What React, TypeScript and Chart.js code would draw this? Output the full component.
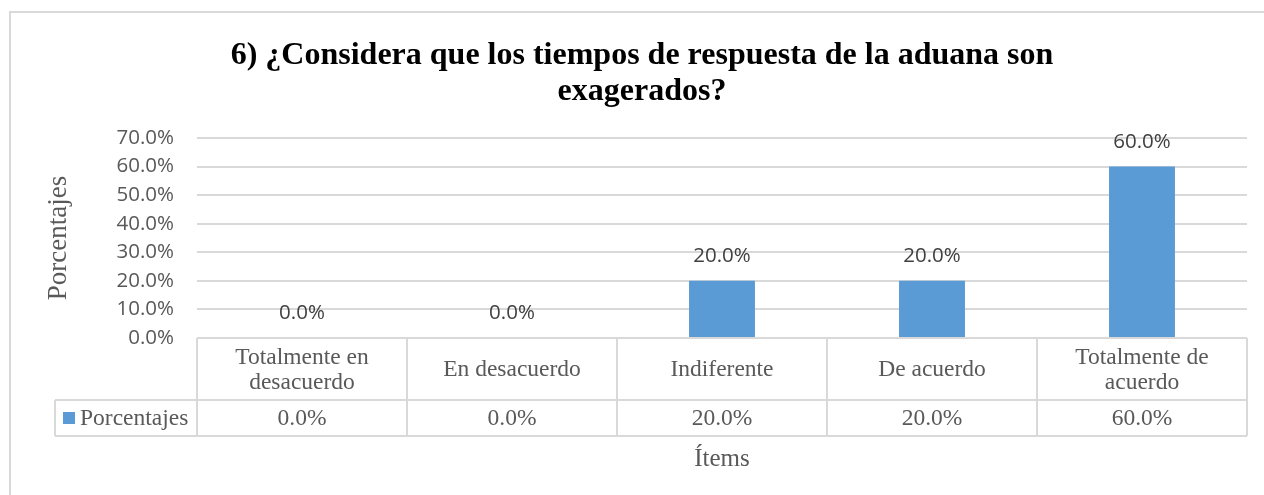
import { useEffect, useRef } from "react";
import { Chart, registerables } from "chart.js";

Chart.register(...registerables);

const titleLines = ["6) ¿Considera que los tiempos de respuesta de la aduana son", "exagerados?"];
const categories = [["Totalmente en", "desacuerdo"], ["En desacuerdo"], ["Indiferente"], ["De acuerdo"], ["Totalmente de", "acuerdo"]];
const seriesName = "Porcentajes";
const values = [0, 0, 0.2, 0.2, 0.6];
const yTitle = "Porcentajes";
const xTitle = "Ítems";
const yMin = 0;
const yMax = 0.7;
const yStep = 0.1;

const fmtPct = (v: number) => (v * 100).toFixed(1) + "%";

const SANS = "'Open Sans', 'Noto Sans', sans-serif";
const SERIF = "'Liberation Serif', 'Times New Roman', serif";
const BAR = "#5b9bd5";
const GRID = "#d9d9d9";
const TXT = "#595959";

const framePlugin = {
  id: "frame",
  beforeDraw(chart: any) {
    const { ctx, width, height } = chart;
    ctx.save();
    ctx.fillStyle = "#ffffff";
    ctx.fillRect(0, 0, width, height);
    ctx.strokeStyle = GRID;
    ctx.lineWidth = 2;
    ctx.beginPath();
    ctx.moveTo(10, height);
    ctx.lineTo(10, 12);
    ctx.lineTo(width, 12);
    ctx.stroke();
    ctx.restore();
  },
};

const labelPlugin = {
  id: "barLabels",
  afterDatasetsDraw(chart: any) {
    const { ctx } = chart;
    const meta = chart.getDatasetMeta(0);
    ctx.save();
    ctx.font = `20.5px ${SANS}`;
    ctx.fillStyle = "#404040";
    ctx.textAlign = "center";
    ctx.textBaseline = "middle";
    meta.data.forEach((bar: any, i: number) => {
      ctx.fillText(fmtPct(values[i]), bar.x, bar.y - 24.5);
    });
    ctx.restore();
  },
};

const tablePlugin = {
  id: "dataTable",
  afterDraw(chart: any) {
    const { ctx } = chart;
    const xs = chart.scales.x;
    const ys = chart.scales.y;
    const n = categories.length;
    const colW = xs.getPixelForValue(1) - xs.getPixelForValue(0);
    const top = ys.getPixelForValue(yMin);
    const rowSep = top + 62;
    const bottom = rowSep + 36;
    const legLeft = 55;
    const left = xs.getPixelForValue(0) - colW / 2;
    const right = xs.getPixelForValue(n - 1) + colW / 2;

    ctx.save();
    ctx.strokeStyle = GRID;
    ctx.lineWidth = 2;
    ctx.beginPath();
    ctx.moveTo(left, top);
    ctx.lineTo(right, top);
    ctx.moveTo(legLeft, rowSep);
    ctx.lineTo(right, rowSep);
    ctx.moveTo(legLeft, bottom);
    ctx.lineTo(right, bottom);
    ctx.moveTo(legLeft, rowSep);
    ctx.lineTo(legLeft, bottom);
    for (let i = 0; i <= n; i++) {
      const x = left + i * colW;
      ctx.moveTo(x, top);
      ctx.lineTo(x, bottom);
    }
    ctx.stroke();

    ctx.font = `23.5px ${SERIF}`;
    ctx.fillStyle = TXT;
    ctx.textAlign = "center";
    ctx.textBaseline = "middle";
    const lh = 25;
    const headMid = (top + rowSep) / 2 + 1;
    categories.forEach((lines, i) => {
      const cx = xs.getPixelForValue(i);
      const y0 = headMid - ((lines.length - 1) * lh) / 2;
      lines.forEach((line, j) => ctx.fillText(line, cx, y0 + j * lh));
      ctx.fillText(fmtPct(values[i]), cx, (rowSep + bottom) / 2 + 1);
    });

    ctx.fillStyle = BAR;
    ctx.fillRect(63, (rowSep + bottom) / 2 - 6, 12, 12);
    ctx.fillStyle = TXT;
    ctx.textAlign = "left";
    ctx.fillText(seriesName, 80, (rowSep + bottom) / 2 + 1);
    ctx.restore();
  },
};

export default function App() {
  const ref = useRef<HTMLCanvasElement | null>(null);

  useEffect(() => {
    if (!ref.current) return;
    const chart = new Chart(ref.current, {
      type: "bar",
      data: {
        labels: categories,
        datasets: [
          {
            label: seriesName,
            data: values,
            backgroundColor: BAR,
            borderWidth: 0,
            categoryPercentage: 1,
            barPercentage: 0.314,
          },
        ],
      },
      options: {
        animation: false,
        responsive: true,
        maintainAspectRatio: false,
        devicePixelRatio: 1,
        layout: { padding: { left: 20, right: 0, top: 0, bottom: 0 } },
        plugins: {
          legend: { display: false },
          tooltip: { enabled: false },
          title: {
            display: true,
            text: titleLines,
            color: "#000000",
            font: { family: SERIF, size: 32, weight: "bold", lineHeight: 1.125 },
            padding: { top: 38, bottom: 28 },
          },
        },
        scales: {
          x: {
            type: "category",
            offset: true,
            grid: { display: false },
            border: { display: false },
            ticks: { display: false },
            title: {
              display: true,
              text: xTitle,
              color: TXT,
              font: { family: SERIF, size: 25, lineHeight: 1.2 },
              padding: { top: 0, bottom: 21 },
            },
            afterFit(scale: any) {
              scale.height = 157;
            },
          },
          y: {
            min: yMin,
            max: yMax,
            grid: { color: GRID, lineWidth: 2, drawTicks: false },
            border: { display: false },
            ticks: {
              stepSize: yStep,
              padding: 23,
              color: TXT,
              font: { family: SANS, size: 20.5 },
              callback: (v: any) => fmtPct(Number(v)),
            },
            title: {
              display: true,
              text: yTitle,
              color: TXT,
              font: { family: SERIF, size: 27, lineHeight: 1.2 },
              padding: { top: 23, bottom: 0 },
            },
            afterFit(scale: any) {
              scale.width = 177;
            },
          },
          y2: {
            position: "right",
            display: true,
            grid: { display: false },
            border: { display: false },
            ticks: { display: false },
            afterFit(scale: any) {
              scale.width = 17;
            },
          },
        },
      },
      plugins: [framePlugin, labelPlugin, tablePlugin],
    });
    return () => chart.destroy();
  }, []);

  return (
    <div style={{ position: "fixed", left: 0, top: 0, width: 1264, height: 495, overflow: "hidden", background: "#fff" }}>
      <canvas ref={ref} />
    </div>
  );
}
